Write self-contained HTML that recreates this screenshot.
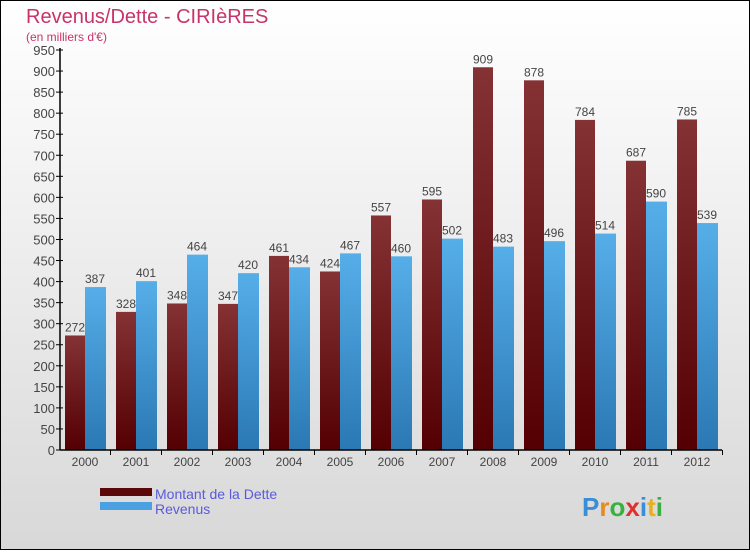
<!DOCTYPE html>
<html><head><meta charset="utf-8"><style>
body{margin:0;width:750px;height:550px;overflow:hidden;font-family:"Liberation Sans",sans-serif}
</style></head><body>
<svg width="750" height="550" xmlns="http://www.w3.org/2000/svg">
<defs>
<linearGradient id="bg" x1="0" y1="0" x2="0" y2="1"><stop offset="0" stop-color="#ffffff"/><stop offset="1" stop-color="#d8d8d8"/></linearGradient>
<linearGradient id="gd" x1="0" y1="0" x2="0" y2="1"><stop offset="0" stop-color="#843234"/><stop offset="1" stop-color="#540003"/></linearGradient>
<linearGradient id="gb" x1="0" y1="0" x2="0" y2="1"><stop offset="0" stop-color="#56aee8"/><stop offset="1" stop-color="#2a78b4"/></linearGradient>
</defs>
<rect x="0.5" y="0.5" width="749" height="549" fill="url(#bg)" stroke="#000"/>
<text x="26" y="23" font-size="20" fill="#c8336a">Revenus/Dette - CIRIèRES</text>
<text x="26" y="41" font-size="12" fill="#c8336a">(en milliers d'€)</text>
<g id="yaxis"></g>
<g id="bars"></g>
<g id="xaxis"></g>
<rect x="100" y="488" width="52" height="8" fill="#5a0808"/>
<text x="155" y="499" font-size="14" fill="#5a5adc">Montant de la Dette</text>
<rect x="100" y="502" width="52" height="8" fill="#4aa0e0"/>
<text x="155" y="514" font-size="14" fill="#5a5adc">Revenus</text>
<text x="582" y="516" font-size="26" font-weight="bold"><tspan fill="#3a8ed8">P</tspan><tspan fill="#e88a20">r</tspan><tspan fill="#3ab040">o</tspan><tspan fill="#e03030">x</tspan><tspan fill="#3a8ed8">i</tspan><tspan fill="#e8b020">t</tspan><tspan fill="#3ab040">i</tspan></text>
</svg>
<script>
const years=["2000","2001","2002","2003","2004","2005","2006","2007","2008","2009","2010","2011","2012"];
const dette=[272,328,348,347,461,424,557,595,909,878,784,687,785];
const revenus=[387,401,464,420,434,467,460,502,483,496,514,590,539];
const yTicks=[0,50,100,150,200,250,300,350,400,450,500,550,600,650,700,750,800,850,900,950];
const NS="http://www.w3.org/2000/svg";
const y0=450,yTop=50,yMax=950;
function ys(v){return y0-(v/yMax)*(y0-yTop);}
function xc(i){return 85+51*i;}
function mk(t,a,p){const e=document.createElementNS(NS,t);for(const k in a)e.setAttribute(k,a[k]);p.appendChild(e);return e;}
const ya=document.getElementById('yaxis'),ba=document.getElementById('bars'),xa=document.getElementById('xaxis');
mk('line',{x1:60,y1:yTop-2,x2:60,y2:y0,stroke:'#000','stroke-width':1.5},ya);
yTicks.forEach(v=>{
 const l=mk('line',{x1:56,x2:63,y1:ys(v),y2:ys(v),stroke:'#000'},ya);
 const t=mk('text',{x:55,y:ys(v)+5,'text-anchor':'end','font-size':13,fill:'#444'},ya);
 
 
 t.textContent=v;
});
mk('line',{x1:60,y1:y0,x2:722,y2:y0,stroke:'#000','stroke-width':1.5},xa);
years.forEach((y,i)=>{
 const c=xc(i);
 const d=mk('rect',{x:c-20,y:ys(dette[i]),width:20,height:y0-ys(dette[i]),fill:'url(#gd)'},ba);
 
 
 const r=mk('rect',{x:c,y:ys(revenus[i]),width:21,height:y0-ys(revenus[i]),fill:'url(#gb)'},ba);
 
 
 const t1=mk('text',{x:c-10,y:ys(dette[i])-4,'text-anchor':'middle','font-size':12,fill:'#444'},ba);
 
 
 t1.textContent=dette[i];
 const t2=mk('text',{x:c+10,y:ys(revenus[i])-4,'text-anchor':'middle','font-size':12,fill:'#444'},ba);
 
 
 t2.textContent=revenus[i];
 mk('line',{x1:c+51/2,x2:c+51/2,y1:y0,y2:y0+5,stroke:'#000'},xa);
 const xl=mk('text',{x:c,y:y0+16,'text-anchor':'middle','font-size':12,fill:'#444'},xa);
 
 
 xl.textContent=y;
});
</script>
</body></html>
